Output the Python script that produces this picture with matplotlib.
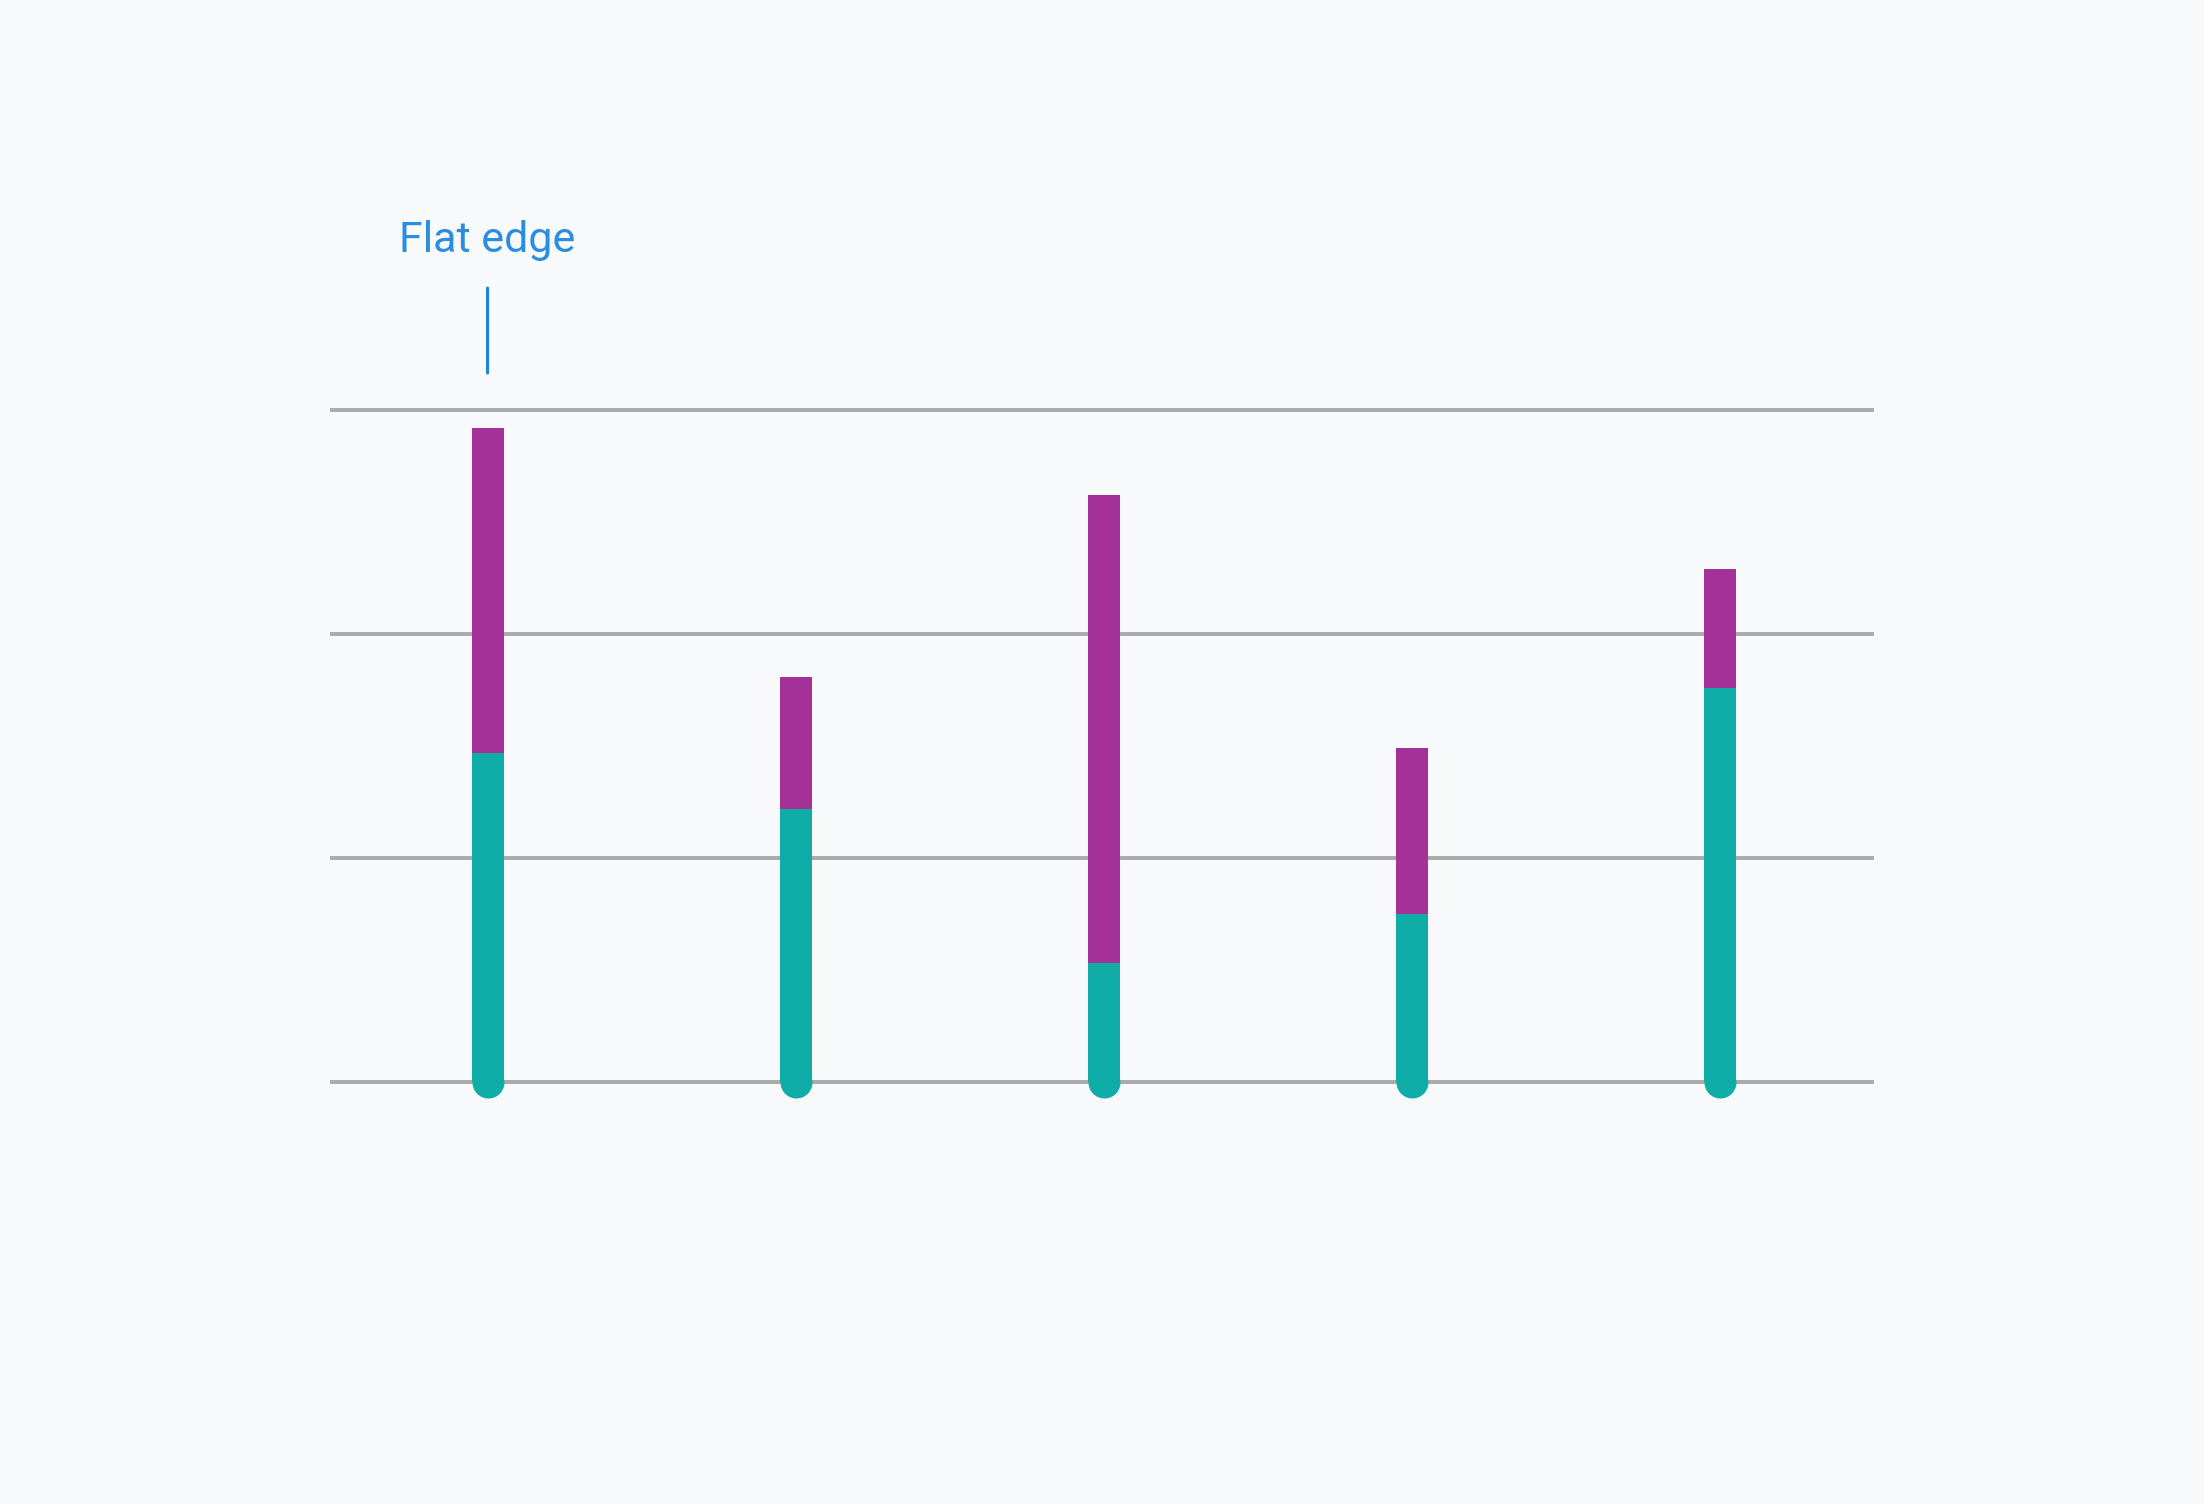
import numpy as np
import matplotlib
matplotlib.use("Agg")
import matplotlib.pyplot as plt
import matplotlib.transforms as mtransforms

# data
categories = ["A", "B", "C", "D", "E"]
teal_values = [14.7, 12.2, 5.3, 7.5, 17.6]
purple_values = [14.5, 5.9, 20.9, 7.4, 5.3]
grid_values = [0, 10, 20, 30]

TEAL = "#10ADA8"
PURPLE = "#A43197"
BG = "#F7F9FA"
GRID = "#ABABAB"
BLUE = "#1A84E0"

W, H, DPI = 2204, 1504, 200
fig = plt.figure(figsize=(W / DPI, H / DPI), dpi=DPI, facecolor=BG)
ax = fig.add_axes([332 / W, (H - 1082) / H, (1872 - 332) / W, (1082 - 410) / H])
ax.set_facecolor(BG)

x = np.arange(len(categories))
bar_w = 0.104

for g in grid_values:
    ax.axhline(g, color=GRID, lw=1.44, zorder=1, clip_on=False)

ax.bar(x, teal_values, width=bar_w, color=TEAL, zorder=3)
ax.bar(x, purple_values, width=bar_w, bottom=teal_values, color=PURPLE, zorder=3)
# round bottom caps
ax.scatter(x, np.zeros(len(x)), s=(32 / DPI * 72) ** 2, color=TEAL, zorder=2.9,
           clip_on=False, linewidths=0)

ax.set_xlim(-0.505, len(categories) - 0.505)
ax.set_ylim(0, 30)
ax.axis("off")

# annotation above first bar
off_lo = mtransforms.offset_copy(ax.get_xaxis_transform(), fig=fig, x=0, y=13.3, units="points")
off_hi = mtransforms.offset_copy(ax.get_xaxis_transform(), fig=fig, x=0, y=43.9, units="points")
ax.annotate("", xy=(0, 1), xycoords=off_lo, xytext=(0, 1), textcoords=off_hi,
            arrowprops=dict(arrowstyle="-", color=BLUE, lw=1.1, shrinkA=0, shrinkB=0),
            annotation_clip=False)
ax.annotate("Flat edge", xy=(0, 1), xycoords=("data", "axes fraction"),
            xytext=(0, 56.9), textcoords="offset points", ha="center", va="baseline",
            fontsize=15.5, color="#2B8DE0", family="Roboto", annotation_clip=False)

fig.savefig("out.png", dpi=DPI, facecolor=BG)
